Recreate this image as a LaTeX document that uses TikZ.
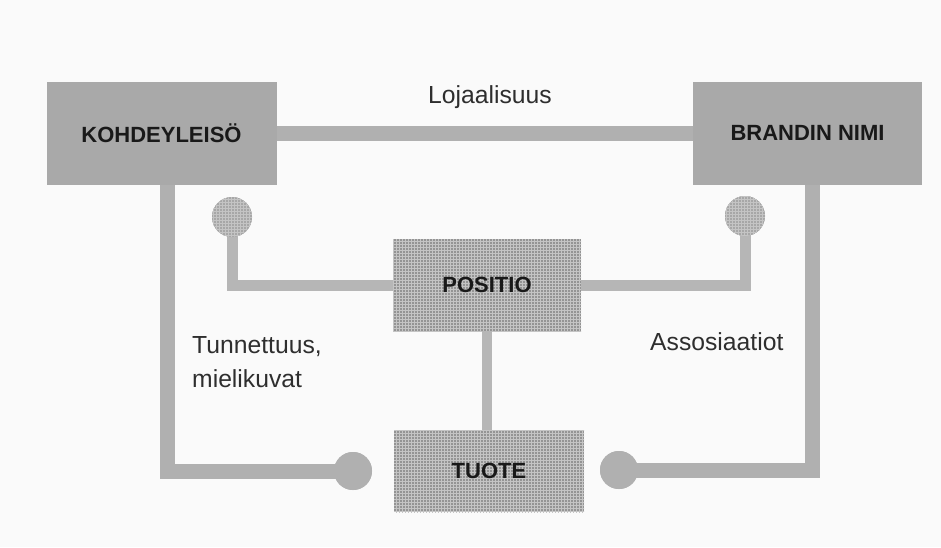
\documentclass[tikz,border=0pt]{standalone}
\usepackage{fontspec}
\setmainfont{Liberation Sans}
\usetikzlibrary{patterns}
\definecolor{boxgray}{HTML}{A9A9A9}
\definecolor{bargray}{HTML}{B0B0B0}
\definecolor{texdark}{HTML}{949494}
\definecolor{texlight}{HTML}{C4C4C4}
\definecolor{stemgray}{HTML}{B6B6B6}
\definecolor{labeltext}{HTML}{2E2E2E}
\begin{document}
\begin{tikzpicture}[x=1pt,y=-1pt,
  bigbox/.style={rectangle, fill=boxgray, inner sep=0pt, text=black!90,
    font={\fontsize{22}{26}\selectfont\bfseries}},
  texbox/.style={rectangle, fill=texdark, inner sep=0pt, text=black!90,
    font={\fontsize{22}{26}\selectfont\bfseries},
    postaction={pattern=grid, pattern color=texlight}},
  texdot/.style={circle, fill=stemgray!92!black, inner sep=0pt, minimum size=40pt,
    postaction={pattern=grid, pattern color=texlight}},
  soliddot/.style={circle, fill=bargray, inner sep=0pt, minimum size=38pt},
  bar/.style={draw=bargray, line width=15pt, line join=miter},
  stem/.style={draw=stemgray, line width=11pt, line join=miter},
  lbl/.style={text=labeltext, inner sep=0pt, font={\fontsize{24.7}{34}\selectfont}}
]
\useasboundingbox (0,0) rectangle (941,547);
\fill[white!98!black] (0,0) rectangle (941,547);

\coordinate (lk) at (167,471);
\coordinate (rk) at (812,470);

\node[bigbox, minimum width=230pt, minimum height=103pt] (kohde) at (161.5,133) {KOHDEYLEISÖ};
\node[bigbox, minimum width=229pt, minimum height=103pt] (brand) at (807.5,133) {BRANDIN NIMI};
\node[soliddot] (c3) at (353,471) {};
\node[soliddot] (c4) at (619,470) {};
\node[texdot] (c1) at (232,217) {};
\node[texdot] (c2) at (745,216) {};

\draw[bar] (kohde.east) -- (brand.west);
\draw[bar] (kohde.south -| lk) -- (lk) -- (c3.center);
\draw[bar] (brand.south -| rk) -- (rk) -- (c4.center);
\node[soliddot] at (c3) {};
\node[soliddot] at (c4) {};

\node[texbox, minimum width=188pt, minimum height=92pt] (positio) at (487,285) {POSITIO};
\node[texbox, minimum width=190pt, minimum height=82pt] (tuote) at (489,471) {TUOTE};

\draw[stem] (c1.center) -- (c1 |- positio.west) -- (positio.west);
\draw[stem] (c2.center) -- (c2 |- positio.east) -- (positio.east);
\node[texdot] at (c1) {};
\node[texdot] at (c2) {};
\draw[stem, line width=10pt] (positio.south) -- (positio.south |- tuote.north);

\node[lbl, anchor=base west] (loj) at (428,103) {Lojaalisuus};
\node[lbl, anchor=base west, align=left] (tun) at (192,387) {Tunnettuus,\\mielikuvat};
\node[lbl, anchor=base west] (ass) at (650,350) {Assosiaatiot};
\end{tikzpicture}
\end{document}
